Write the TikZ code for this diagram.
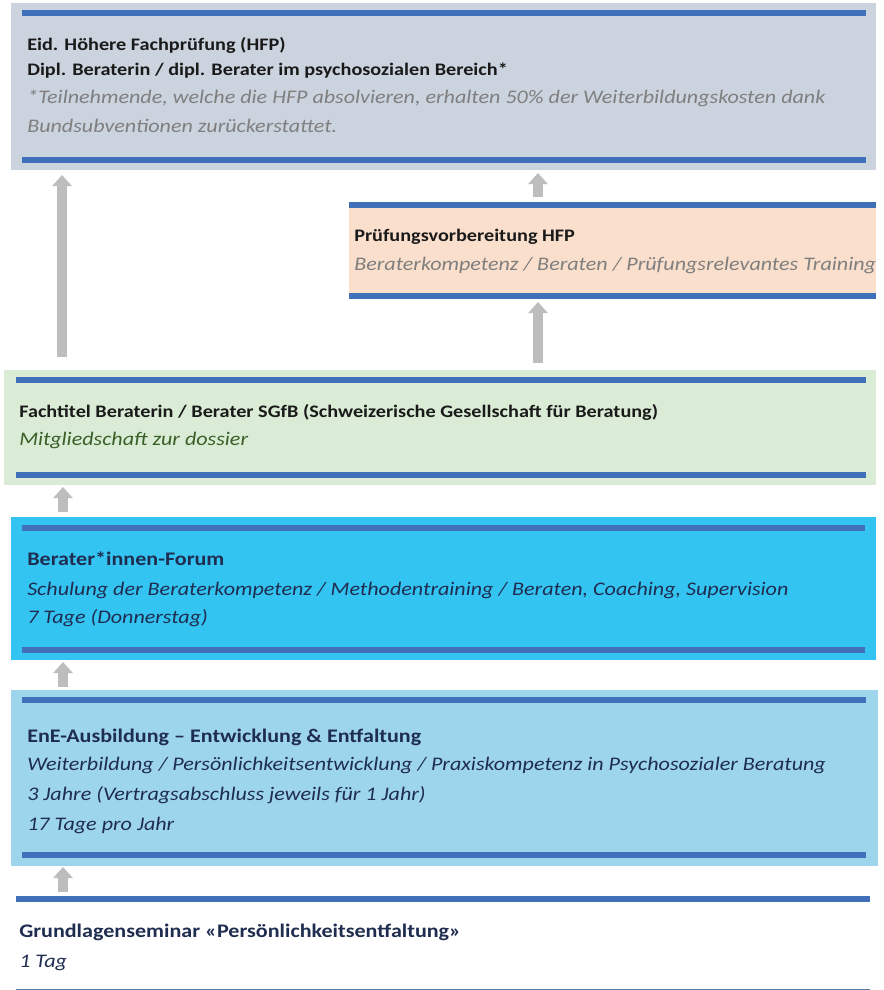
\documentclass[tikz,border=0pt]{standalone}
\usepackage{fontspec}
\setmainfont{Carlito}[FakeStretch=1.15]
\usetikzlibrary{arrows.meta,fit,calc}
\definecolor{greybox}{HTML}{CBD3DE}
\definecolor{blueline}{HTML}{4070B9}
\definecolor{peach}{HTML}{FADFCC}
\definecolor{greenbox}{HTML}{DAECD5}
\definecolor{cyanbox}{HTML}{33C4F2}
\definecolor{lightblue}{HTML}{9DD5EC}
\definecolor{navy}{HTML}{1F2D50}
\definecolor{darktxt}{HTML}{1A1A1A}
\definecolor{greytxt}{HTML}{7F7F7F}
\definecolor{greentxt}{HTML}{3A5F28}
\definecolor{arrowgrey}{HTML}{BDBDBD}
\definecolor{thinline}{HTML}{5B7BAA}
\begin{document}
\begin{tikzpicture}[x=0.75pt,y=-0.75pt,
  box/.style={inner sep=0pt, outer sep=0pt, draw=none},
  bline/.style={fill=blueline},
  ttl/.style={anchor=base west, inner sep=0pt, font=\fontsize{14.4}{17}\selectfont\bfseries},
  ttlsmall/.style={anchor=base west, inner sep=0pt, font=\fontsize{13.2}{16}\selectfont\bfseries},
  sub/.style={anchor=base west, inner sep=0pt, font=\fontsize{14.4}{17}\selectfont\itshape},
  uparrow/.style={draw=arrowgrey, line width=7.5pt, -{Triangle[width=14.25pt,length=8.25pt]}}]
\useasboundingbox (0,0) rectangle (883,990);
\fill[white] (0,0) rectangle (883,990);
% boxes
\node[box, fill=greybox, fit={(11,3)(876,170)}] (hfp) {};
\node[box, fill=peach, fit={(349,202)(876,299)}] (prep) {};
\node[box, fill=greenbox, fit={(4,370)(876,485)}] (green) {};
\node[box, fill=cyanbox, fit={(11,517)(876,660)}] (forum) {};
\node[box, fill=lightblue, fit={(11,690)(878,866)}] (ene) {};
\node[box, fit={(16,896)(870,989)}] (grund) {};
% blue lines
\fill[bline] (22,10) rectangle (866,16);
\fill[bline] (22,157) rectangle (866,163);
\fill[bline] (349,202) rectangle (876,208);
\fill[bline] (349,293) rectangle (876,299);
\fill[bline] (16,377) rectangle (866,383);
\fill[bline] (16,472) rectangle (866,478);
\fill[bline] (22,525) rectangle (865,531);
\fill[bline] (22,647) rectangle (865,653);
\fill[bline] (22,697) rectangle (866,703);
\fill[bline] (22,852) rectangle (866,858);
\fill[bline] (16,896) rectangle (870,902);
\draw[thinline, line width=0.75pt] (16,989) -- (870,989);
% texts
\node[ttlsmall, text=darktxt] (t1) at (27,50) {Eid. Höhere Fachprüfung (HFP)};
\node[ttlsmall, text=darktxt] (t2) at (27,75) {Dipl. Beraterin / dipl. Berater im psychosozialen Bereich*};
\node[sub, text=greytxt] (t3) at (27,103) {*Teilnehmende, welche die HFP absolvieren, erhalten 50\% der Weiterbildungskosten dank};
\node[sub, text=greytxt] (t4) at (27,132) {Bundsubventionen zurückerstattet.};
\node[ttlsmall, text=darktxt] (p1) at (354,241) {Prüfungsvorbereitung HFP};
\node[sub, text=greytxt] (p2) at (354,270) {Beraterkompetenz / Beraten / Prüfungsrelevantes Training};
\node[ttlsmall, text=darktxt] (g1) at (19,417) {Fachtitel Beraterin / Berater SGfB (Schweizerische Gesellschaft für Beratung)};
\node[sub, text=greentxt] (g2) at (19,445) {Mitgliedschaft zur dossier};
\node[ttl, text=navy] (f1) at (27,565) {Berater*innen-Forum};
\node[sub, text=navy] (f2) at (27,595) {Schulung der Beraterkompetenz / Methodentraining / Beraten, Coaching, Supervision};
\node[sub, text=navy] (f3) at (27,623) {7 Tage (Donnerstag)};
\node[ttl, text=navy] (e1) at (27,742) {EnE-Ausbildung – Entwicklung \& Entfaltung};
\node[sub, text=navy] (e2) at (27,770) {Weiterbildung / Persönlichkeitsentwicklung / Praxiskompetenz in Psychosozialer Beratung};
\node[sub, text=navy] (e3) at (27,800) {3 Jahre (Vertragsabschluss jeweils für 1 Jahr)};
\node[sub, text=navy] (e4) at (27,830) {17 Tage pro Jahr};
\node[ttl, text=navy] (r1) at (19,937) {Grundlagenseminar «Persönlichkeitsentfaltung»};
\node[sub, text=navy] (r2) at (19,967) {1 Tag};
% arrows
\coordinate (axl) at (62,0);
\coordinate (axm) at (63,0);
\coordinate (axr) at (538,0);
\draw[uparrow] ($(green.north -| axl)+(0,-13)$) -- ($(hfp.south -| axl)+(0,5)$);
\draw[uparrow] ($(prep.north -| axr)+(0,-5)$) -- ($(hfp.south -| axr)+(0,3)$);
\draw[uparrow] ($(green.north -| axr)+(0,-7)$) -- ($(prep.south -| axr)+(0,3)$);
\draw[uparrow] ($(forum.north -| axm)+(0,-5)$) -- ($(green.south -| axm)+(0,2)$);
\draw[uparrow] ($(ene.north -| axm)+(0,-3)$) -- ($(forum.south -| axm)+(0,2)$);
\draw[uparrow] ($(grund.north -| axm)+(0,-4)$) -- ($(ene.south -| axm)+(0,1)$);
\end{tikzpicture}
\end{document}
